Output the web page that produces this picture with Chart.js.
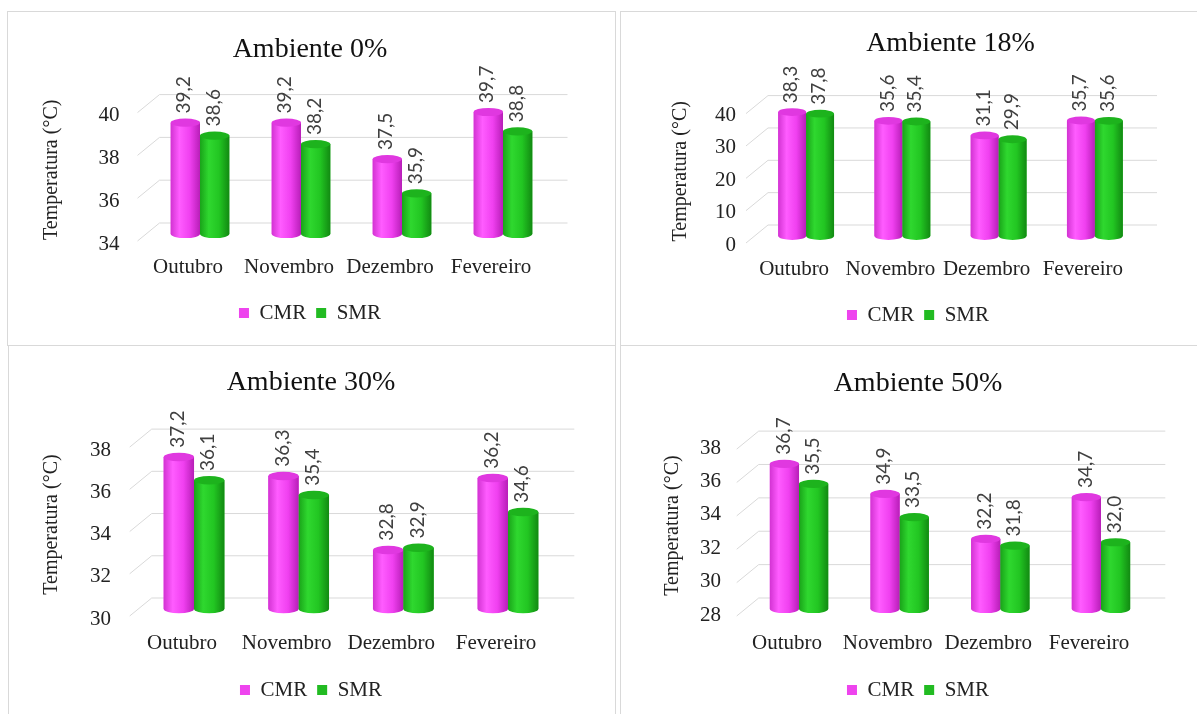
<!DOCTYPE html>
<html><head><meta charset="utf-8">
<script src="https://cdn.jsdelivr.net/npm/chart.js@4/dist/chart.umd.min.js"></script>
<style>
html,body{margin:0;padding:0;background:#fff;overflow:hidden;width:1197px;height:714px;position:relative;}
.panel{position:absolute;border:1px solid #d9d9d9;box-sizing:border-box;}
canvas{position:absolute;}
</style></head><body>
<div class="panel" style="left:7px;top:11px;width:609px;height:335px"></div>
<div class="panel" style="left:620px;top:11px;width:600px;height:335px"></div>
<div class="panel" style="left:8px;top:345px;width:608px;height:400px"></div>
<div class="panel" style="left:620px;top:345px;width:600px;height:400px"></div>
<canvas id="c1" width="608" height="332" style="left:7px;top:11px"></canvas>
<canvas id="c2" width="596" height="332" style="left:620px;top:11px"></canvas>
<canvas id="c3" width="608" height="367" style="left:7px;top:347px"></canvas>
<canvas id="c4" width="596" height="367" style="left:620px;top:347px"></canvas>
<script>
// ---- data ----
const categories = ['Outubro', 'Novembro', 'Dezembro', 'Fevereiro'];
const seriesNames = ['CMR', 'SMR'];
const titles = ['Ambiente 0%', 'Ambiente 18%', 'Ambiente 30%', 'Ambiente 50%'];
const yTitle = 'Temperatura (°C)';
const cmr0 = [39.2, 39.2, 37.5, 39.7];
const smr0 = [38.6, 38.2, 35.9, 38.8];
const cmr18 = [38.3, 35.6, 31.1, 35.7];
const smr18 = [37.8, 35.4, 29.9, 35.6];
const cmr30 = [37.2, 36.3, 32.8, 36.2];
const smr30 = [36.1, 35.4, 32.9, 34.6];
const cmr50 = [36.7, 34.9, 32.2, 34.7];
const smr50 = [35.5, 33.5, 31.8, 32.0];
const yTicks0 = [34, 36, 38, 40];
const yTicks18 = [0, 10, 20, 30, 40];
const yTicks30 = [30, 32, 34, 36, 38];
const yTicks50 = [28, 30, 32, 34, 36, 38];

// ---- styles ----
const SERIF = "'Liberation Serif', 'Times New Roman', serif";
const SANS = "Lato, 'Liberation Sans', sans-serif";
const COLS = [
  {legend: '#ee44ee', edge: '#d233d2', light: '#ff5cff', main: '#f040f0', dark: '#b81eb8', top: '#e038e0'},
  {legend: '#22bb22', edge: '#19a319', light: '#2fd82f', main: '#22c622', dark: '#128a12', top: '#1db31d'}
];
const fmt = v => v.toFixed(1).replace('.', ',');

const grid3d = {
  id: 'grid3d',
  beforeDatasetsDraw(chart) {
    const {ctx, chartArea: a} = chart;
    const ys = chart.scales.y;
    ctx.save();
    ctx.strokeStyle = '#d9d9d9';
    ctx.lineWidth = 1;
    ys.ticks.forEach(t => {
      const p = ys.getPixelForValue(t.value);
      ctx.beginPath();
      ctx.moveTo(a.left - 12, p + 7);
      ctx.lineTo(a.left + 10, p - 11);
      ctx.lineTo(a.right + 14, p - 11);
      ctx.stroke();
    });
    ctx.restore();
  }
};

const cylinders = {
  id: 'cylinders',
  afterDatasetsDraw(chart) {
    const {ctx} = chart;
    chart.data.datasets.forEach((ds, i) => {
      const meta = chart.getDatasetMeta(i);
      const c = COLS[i];
      meta.data.forEach((bar, j) => {
        const {x, y, base, width} = bar.getProps(['x', 'y', 'base', 'width'], true);
        const rx = width / 2, ry = Math.max(3, width * 0.14);
        const l = x - rx, r = x + rx;
        const g = ctx.createLinearGradient(l, 0, r, 0);
        g.addColorStop(0, c.edge);
        g.addColorStop(0.3, c.light);
        g.addColorStop(0.65, c.main);
        g.addColorStop(1, c.dark);
        ctx.save();
        ctx.beginPath();
        ctx.moveTo(l, y);
        ctx.lineTo(l, base);
        ctx.ellipse(x, base, rx, ry, 0, Math.PI, 0, true);
        ctx.lineTo(r, y);
        ctx.closePath();
        ctx.fillStyle = g;
        ctx.fill();
        ctx.beginPath();
        ctx.ellipse(x, y, rx, ry, 0, 0, Math.PI * 2);
        ctx.fillStyle = c.top;
        ctx.fill();
        // value label
        ctx.translate(x - 1, y - ry - 5);
        ctx.rotate(-Math.PI / 2);
        ctx.font = '19px ' + SANS;
        ctx.fillStyle = '#404040';
        ctx.textAlign = 'left';
        ctx.textBaseline = 'middle';
        ctx.fillText(fmt(ds.data[j]), 0, 0);
        ctx.restore();
      });
    });
  }
};

function makeChart(id, titleText, cmr, smr, ticks, g) {
  const tmin = ticks[0], tmax = ticks[ticks.length - 1];
  const step = ticks[1] - ticks[0];
  const dsBase = {borderWidth: 0, yAxisID: 'y', barPercentage: 1, categoryPercentage: 0.58, base: tmin};
  return new Chart(document.getElementById(id), {
    type: 'bar',
    data: {
      labels: categories,
      datasets: [
        Object.assign({label: seriesNames[0], data: cmr, backgroundColor: COLS[0].legend}, dsBase),
        Object.assign({label: seriesNames[1], data: smr, backgroundColor: COLS[1].legend}, dsBase)
      ]
    },
    options: {
      responsive: false,
      animation: false,
      devicePixelRatio: 1,
      layout: {padding: g.pad},
      plugins: {
        tooltip: {enabled: false},
        title: {
          display: true, text: titleText, color: '#111', fullSize: g.titleFull,
          font: {family: SERIF, size: 28, weight: 'normal'},
          padding: {top: g.tPad[0], bottom: g.tPad[1]}
        },
        legend: {
          position: 'bottom',
          labels: {boxWidth: 10, boxHeight: 10, padding: 10, color: '#222', font: {family: SERIF, size: 21}}
        }
      },
      scales: {
        x: {
          grid: {display: false, drawTicks: false}, border: {display: false},
          ticks: {color: '#222', font: {family: SERIF, size: 21}, padding: g.xPad, labelOffset: -12, maxRotation: 0},
          afterFit: s => { s.height = g.xH; }
        },
        y: {
          position: 'left', min: tmin, max: tmax,
          grid: {display: false, drawTicks: false}, border: {display: false},
          ticks: {stepSize: step, color: '#222', font: {family: SERIF, size: 21}, padding: g.yPad, labelOffset: g.yLo},
          title: {display: true, text: yTitle, color: '#222', font: {family: SERIF, size: 20}, padding: {top: g.ytPad, bottom: 0}},
          afterFit: s => { s.width = g.yW; }
        },
        yr: {
          position: 'right', display: true,
          grid: {display: false, drawTicks: false}, border: {display: false},
          ticks: {display: false},
          afterFit: s => { s.width = g.rW; }
        }
      }
    },
    plugins: [grid3d, cylinders]
  });
}

makeChart('c1', titles[0], cmr0, smr0, yTicks0,
  {pad: {left: 0, right: 2, top: 0, bottom: 9.5}, titleFull: true, tPad: [22, 39], xPad: 21, xH: 58.5, yW: 142.5, yPad: 30, yLo: 10, ytPad: 33, rW: 59.5});
makeChart('c2', titles[1], cmr18, smr18, yTicks18,
  {pad: {left: 0, right: 0, top: 0, bottom: 7.5}, titleFull: false, tPad: [16, 46], xPad: 21, xH: 58.5, yW: 138, yPad: 22, yLo: 9, ytPad: 49, rW: 73});
makeChart('c3', titles[2], cmr30, smr30, yTicks30,
  {pad: {left: 0, right: 0, top: 0, bottom: 3.5}, titleFull: true, tPad: [19, 40.5], xPad: 22, xH: 60.5, yW: 134.7, yPad: 30.7, yLo: 10, ytPad: 33, rW: 54.7});
makeChart('c4', titles[3], cmr50, smr50, yTicks50,
  {pad: {left: 0, right: 0, top: 0, bottom: 3.5}, titleFull: true, tPad: [20, 41.5], xPad: 22, xH: 60.5, yW: 128.7, yPad: 27.7, yLo: 6, ytPad: 41, rW: 64.7});
</script>
</body></html>
